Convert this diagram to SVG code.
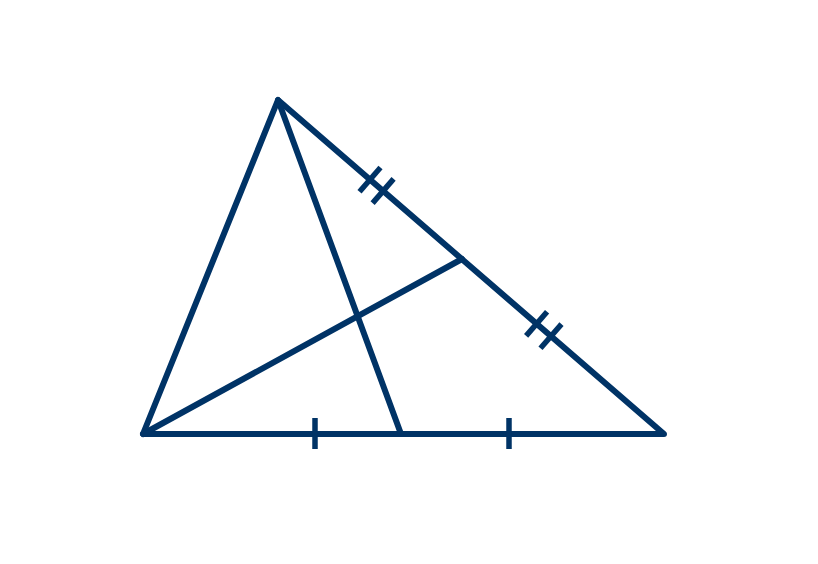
<svg xmlns="http://www.w3.org/2000/svg" width="818" height="564" viewBox="0 0 818 564">
<style>
.l{stroke:#003366;stroke-width:6;fill:none;stroke-linejoin:round;stroke-linecap:round}
.t{stroke:#003366;stroke-width:5.5;fill:none}
</style>
<rect width="818" height="564" fill="#fff"/>
<polygon class="l" points="278,100 143,434 664,434"/>
<line class="l" x1="278" y1="100" x2="401" y2="434"/>
<line class="l" x1="143" y1="434" x2="462" y2="259"/>
<g>
<line class="t" x1="315" y1="418" x2="315" y2="449"/>
<line class="t" x1="509" y1="418" x2="509" y2="449"/>
<line class="t" x1="380.5" y1="167.5" x2="359.5" y2="191.7"/>
<line class="t" x1="393.6" y1="178.9" x2="372.6" y2="203.1"/>
<line class="t" x1="547.1" y1="311.7" x2="526.1" y2="335.9"/>
<line class="t" x1="561.5" y1="324.1" x2="540.5" y2="348.3"/>
</g>
</svg>
